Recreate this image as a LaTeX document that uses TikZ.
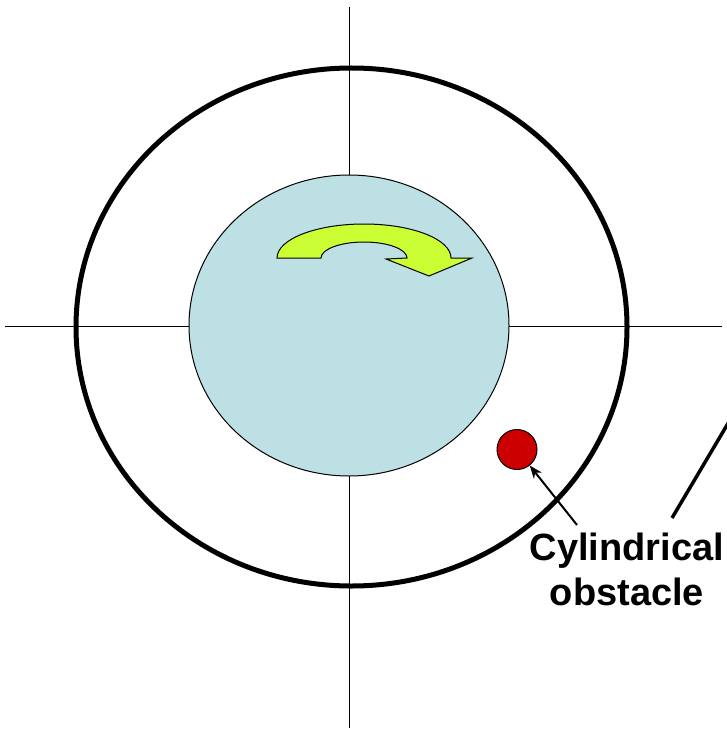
\documentclass[tikz,border=0pt]{standalone}
\usepackage{fontspec}
\setmainfont{Liberation Sans}
\usetikzlibrary{shapes.geometric,arrows.meta}
\definecolor{innerblue}{RGB}{188,224,228}
\definecolor{obsred}{RGB}{204,0,0}
\definecolor{arrowgreen}{RGB}{204,255,51}
\tikzset{
  axisline/.style={draw=black,line width=1pt},
  outerring/.style={ellipse,draw=black,line width=5pt,minimum width=551pt,minimum height=518pt,inner sep=0pt},
  innerdisk/.style={ellipse,draw=black,fill=innerblue,line width=1pt,minimum width=320pt,minimum height=301pt,inner sep=0pt},
  obstacle/.style={circle,draw=black,fill=obsred,line width=1pt,minimum size=40pt,inner sep=0pt},
  labeltext/.style={font=\fontsize{38}{45}\selectfont\bfseries,align=center,inner sep=0pt},
}
\begin{document}
\begin{tikzpicture}[x=1pt,y=-1pt]
\useasboundingbox (0,0) rectangle (726,730);
% axes
\coordinate (vt) at (349,7);
\coordinate (vb) at (349,728);
\coordinate (hl) at (5,326);
\coordinate (hr) at (722,326);
\draw[axisline] (vt) -- (vb);
\draw[axisline] (hl) -- (hr);
% outer ring
\node[outerring] (outer) at (351.5,327) {};
% inner disk
\node[innerdisk] (inner) at (349,325.5) {};
% rotation arrow
\draw[fill=arrowgreen,line width=1pt,line join=miter]
  (277,258) .. controls (277,239.2) and (316,224) .. (364,224)
  .. controls (412,224) and (451,239.2) .. (451,258)
  -- (472,258) -- (429,276) -- (386,259) -- (407,258)
  .. controls (407,249.2) and (387.7,242) .. (364,242)
  .. controls (340.3,242) and (321,249.2) .. (321,258) -- cycle;
% obstacle
\node[obstacle] (obs) at (517,449.5) {};
% label
\node[labeltext,anchor=north] (lbl) at (627,533) {Cylindrical\\obstacle};
\coordinate (tail) at (577,525);
\draw[line width=2pt,-{Stealth[length=13pt,width=10pt]}] (tail) -- (obs);
% side line
\coordinate (sl1) at (672,518);
\coordinate (sl2) at (730,420);
\draw[line width=3.5pt] (sl1) -- (sl2);
\end{tikzpicture}
\end{document}
